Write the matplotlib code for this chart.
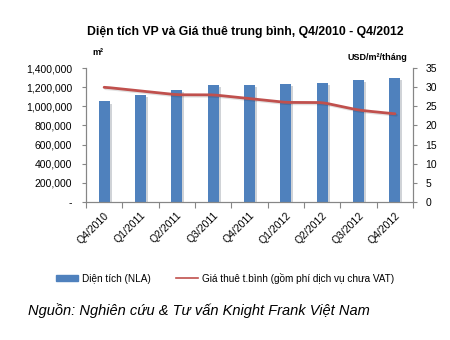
import numpy as np
import matplotlib.pyplot as plt
from matplotlib.ticker import FuncFormatter
import matplotlib.patheffects as pe

plt.rcParams['font.family'] = ['Liberation Sans', 'DejaVu Sans']

quarters = ["Q4/2010", "Q1/2011", "Q2/2011", "Q3/2011", "Q4/2011",
            "Q1/2012", "Q2/2012", "Q3/2012", "Q4/2012"]
area_m2 = [1050000, 1123000, 1169000, 1227000, 1227000,
           1237000, 1248000, 1275000, 1296000]
rent_usd = [30, 29, 28, 28, 27, 26, 26, 24, 23]

bar_color = "#4F81BD"
line_color = "#C0504D"

fig = plt.figure(figsize=(4.5, 3.4), dpi=100)
ax = fig.add_axes([0.191, 0.406, 0.727, 0.394])
ax2 = ax.twinx()

x = np.arange(len(quarters))
ax.bar(x, area_m2, width=0.3, color=bar_color, zorder=2,
       path_effects=[pe.SimplePatchShadow(offset=(1.5, -1.5), alpha=0.2), pe.Normal()])

# smooth the rent line a little, like the spreadsheet does
xs = np.linspace(0, len(x) - 1, 200)
ys = np.interp(xs, x, rent_usd)
k = np.ones(9) / 9
ys_s = np.convolve(np.pad(ys, 4, mode="edge"), k, mode="valid")
ax2.plot(xs, ys_s, color=line_color, lw=2.0, solid_capstyle="round",
         path_effects=[pe.SimpleLineShadow(offset=(1, -1), alpha=0.12), pe.Normal()],
         zorder=3)

ax.set_xlim(-0.5, len(x) - 0.5)
ax.set_ylim(0, 1400000)
ax.set_yticks(np.arange(0, 1400001, 200000))
ax.yaxis.set_major_formatter(FuncFormatter(lambda v, p: "-" if v == 0 else f"{int(v):,}"))
ax2.set_ylim(0, 35)
ax2.set_yticks(np.arange(0, 36, 5))

for a in (ax, ax2):
    a.spines["top"].set_visible(False)
    for s in a.spines.values():
        s.set_color("#868686")
        s.set_linewidth(0.8)

ax.set_xticks(np.arange(-0.5, len(x), 1), minor=False)
ax.set_xticklabels([])
ax.set_xticks(x, minor=True)
ax.set_xticklabels(quarters, minor=True, rotation=45, ha="right", va="top",
                   rotation_mode="anchor", fontsize=7.5)
ax.tick_params(axis="x", which="minor", length=0, pad=6)
ax.tick_params(axis="x", which="major", length=4, color="#868686", direction="out")
ax.tick_params(axis="y", labelsize=7.5, length=3, color="#868686", pad=7)
ax2.tick_params(axis="y", labelsize=7.5, length=3, color="#868686", pad=6)

fig.text(0.545, 0.905, "Diện tích VP và Giá thuê trung bình, Q4/2010 - Q4/2012",
         ha="center", va="center", fontsize=8.8, fontweight="bold")
fig.text(0.205, 0.845, "m²", ha="left", va="center", fontsize=6.5, fontweight="bold")
fig.text(0.905, 0.83, "USD/m²/tháng", ha="right", va="center", fontsize=6.5, fontweight="bold")

h1 = plt.Rectangle((0, 0), 1, 1, color=bar_color)
h2 = plt.Line2D([], [], color=line_color, lw=1.2)
fig.legend([h1, h2], ["Diện tích (NLA)", "Giá thuê t.bình (gồm phí dịch vụ chưa VAT)"],
           loc="center", bbox_to_anchor=(0.5, 0.182), ncol=2, frameon=False,
           fontsize=7.2, handlelength=2.2, handleheight=0.5, columnspacing=2.5,
           handletextpad=0.4)

fig.text(0.062, 0.087, "Nguồn: Nghiên cứu & Tư vấn Knight Frank Việt Nam",
         ha="left", va="center", fontsize=10.5, style="italic")

fig.savefig("out.png", dpi=100)
